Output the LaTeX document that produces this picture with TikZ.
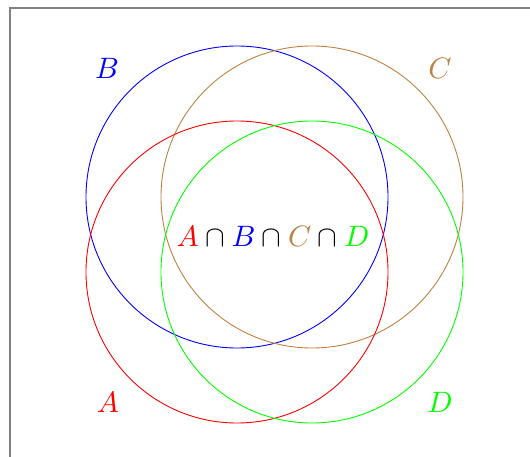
\documentclass[tikz,border=0pt]{standalone}
\begin{document}
\begin{tikzpicture}[x=1pt,y=-1pt,
  venn/.style={line width=0.9pt},
  lab/.style={scale=2.95, inner sep=0pt}]
\useasboundingbox (0,0) rectangle (530,457);
\begin{scope}
\clip (0,0) rectangle (530,457);
\draw[line width=1.6pt, gray] (10,8) rectangle (560,480);
\end{scope}
\draw[venn, blue] (237,197) circle[radius=151];
\draw[venn, brown] (312,197) circle[radius=151];
\draw[venn, red] (237,272) circle[radius=151];
\draw[venn, green] (312,272) circle[radius=151];
\node[lab, text=blue] (lb) at (107,68) {$B$};
\node[lab, text=brown] (lc) at (440,68) {$C$};
\node[lab, text=red] (la) at (108,402) {$A$};
\node[lab, text=green] (ld) at (440,402) {$D$};
\node[lab] (mid) at (273,236) {$\textcolor{red}{A}\cap\textcolor{blue}{B}\cap\textcolor{brown}{C}\cap\textcolor{green}{D}$};
\end{tikzpicture}
\end{document}
